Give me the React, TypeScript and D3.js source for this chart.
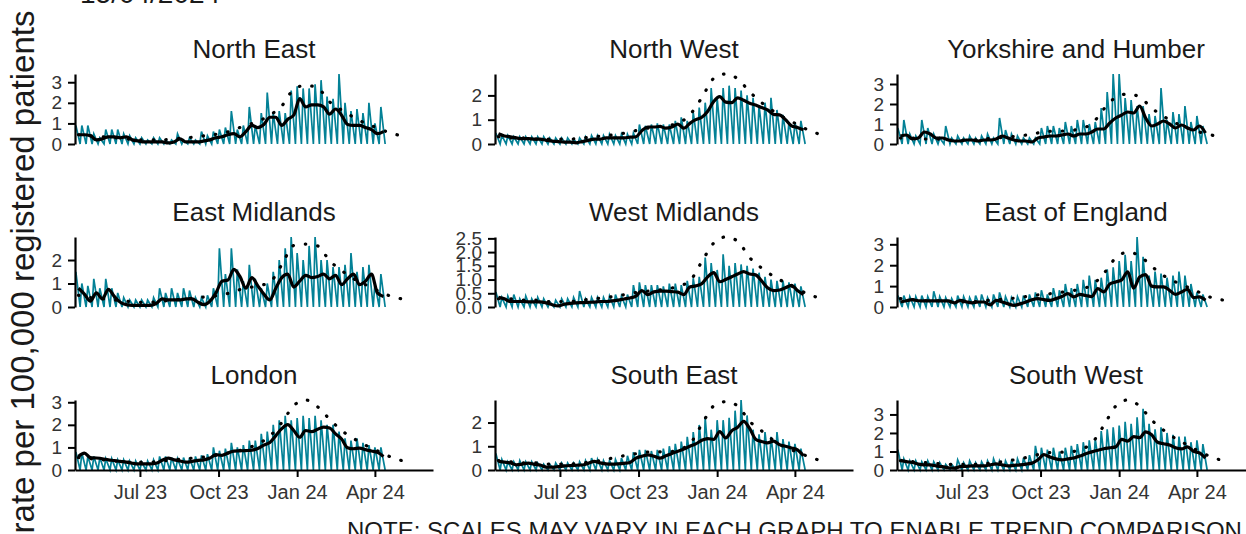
import { useEffect, useRef } from 'react';
import * as d3 from 'd3';

const regions = [
  'North East', 'North West', 'Yorkshire and Humber',
  'East Midlands', 'West Midlands', 'East of England',
  'London', 'South East', 'South West',
];

// weekly peak of the daily rate, one value per week starting Mon 17 Apr 2023
const neHigh = [0.9,0.9,0.9,0.5,0.3,0.7,0.7,0.7,0.5,0.4, 0.3,0.3,0.2,0.3,0.3,0.2,0.2,0.5,0.2,0.3, 0.2,0.6,0.4,0.6,0.7,0.8,1.6,0.7,0.9,1.8, 0.9,1.5,2.5,1.5,1.6,1.5,2.6,2.8,2.7,2.7, 2.9,3.1,2.3,2.2,3.4,2.0,1.6,1.7,1.5,2.0, 1.0,1.8];
const nwHigh = [0.45,0.35,0.35,0.3,0.3,0.3,0.3,0.3,0.3,0.25, 0.25,0.25,0.25,0.2,0.25,0.3,0.35,0.35,0.35,0.4, 0.35,0.4,0.4,0.45,0.8,0.75,0.8,0.85,0.8,0.8, 0.95,1.1,0.95,1.3,1.5,1.7,2.3,1.9,2.3,2.4, 2.3,2.2,2.0,1.9,1.6,1.7,1.9,1.4,1.2,0.9, 0.9,0.95];
const yhHigh = [0.8,1.2,0.5,0.4,1.2,0.8,0.5,0.3,0.9,0.3, 0.4,0.3,0.4,0.3,0.4,0.5,0.3,1.3,0.7,0.5, 0.4,0.3,0.3,0.3,0.8,0.9,0.9,0.8,1.1,0.9, 1.2,1.2,1.0,1.1,1.8,2.6,3.5,3.5,2.3,2.2, 1.9,1.9,1.5,1.4,2.8,1.2,1.6,1.5,1.9,1.1, 1.4,0.9];
const emHigh = [1.5,1.0,0.9,1.2,0.8,1.2,0.8,0.6,0.4,0.3, 0.3,0.3,0.3,0.4,0.8,0.6,0.8,0.6,0.8,0.7, 0.4,0.4,0.5,0.8,2.5,1.4,2.5,1.6,1.1,1.8, 1.2,0.8,1.0,1.5,2.0,2.5,2.98,2.3,2.0,2.6, 2.98,2.0,2.0,1.7,1.7,1.8,2.3,1.5,1.7,1.8, 1.0,1.4];
const wmHigh = [0.55,0.35,0.4,0.45,0.3,0.4,0.3,0.35,0.3,0.2, 0.25,0.3,0.3,0.35,0.58,0.3,0.35,0.35,0.35,0.4, 0.45,0.4,0.45,0.8,0.9,0.8,0.8,0.8,0.75,0.85, 0.85,0.8,0.95,1.05,1.1,1.8,1.6,1.35,1.92,1.5, 1.6,1.55,1.5,1.4,1.25,1.1,1.0,0.95,0.95,0.9, 0.85,0.75];
const eeHigh = [0.55,0.55,0.5,0.5,0.55,0.5,0.75,0.5,0.45,0.4, 0.55,0.5,0.45,0.55,0.6,0.45,0.6,0.7,0.5,0.45, 0.5,0.55,0.6,0.7,0.8,0.6,0.9,0.8,1.1,0.9, 1.1,1.3,1.5,1.3,1.4,1.8,1.9,2.2,2.5,2.2, 3.35,2.4,1.5,1.7,1.6,1.4,1.5,1.7,1.5,1.1, 0.7,0.6];
const ldHigh = [0.8,0.75,0.6,0.6,0.55,0.5,0.5,0.45,0.45,0.4, 0.4,0.35,0.4,0.45,0.6,0.6,0.55,0.5,0.55,0.55, 0.6,0.65,0.7,1.0,0.85,0.95,1.2,1.0,1.1,1.3, 1.3,1.6,1.7,2.0,2.2,2.4,2.2,2.3,2.4,2.3, 2.4,2.2,2.0,2.0,1.7,1.4,1.3,1.4,1.2,1.1, 1.0,1.0];
const seHigh = [0.7,0.45,0.35,0.35,0.4,0.35,0.35,0.3,0.25,0.25, 0.3,0.3,0.3,0.3,0.35,0.4,0.5,0.45,0.4,0.4, 0.45,0.5,0.6,0.75,0.85,0.85,0.8,0.85,0.9,1.0, 1.1,1.2,1.4,1.6,1.9,2.2,1.7,2.1,2.1,2.2, 2.5,2.95,2.3,1.7,1.5,1.6,1.4,1.6,1.3,1.2, 1.1,0.9];
const swHigh = [1.1,0.6,0.5,0.5,0.45,0.5,0.45,0.4,0.3,0.3, 0.55,0.4,0.5,0.4,0.45,0.5,0.6,0.5,0.5,0.5, 0.6,0.65,0.8,1.3,1.2,1.1,1.2,1.0,1.2,1.3, 1.4,1.5,1.6,1.7,2.1,2.2,2.3,2.4,2.6,2.5, 2.85,3.3,2.5,2.2,2.3,2.0,1.9,1.8,1.8,1.5, 1.6,1.4];

// weekend days sit on the baseline in every panel
const weekendLow = 0;

// rolling average (black line), mid-week values
const neMean = [0.45,0.45,0.4,0.2,0.25,0.35,0.35,0.3,0.35,0.2, 0.15,0.1,0.1,0.1,0.1,0.05,0.1,0.25,0.1,0.1, 0.1,0.15,0.2,0.3,0.35,0.45,0.5,0.35,0.6,0.9, 0.8,0.95,1.3,1.3,0.9,1.2,1.4,2.2,1.8,1.9, 1.9,1.8,1.45,1.7,1.4,0.95,0.9,0.9,0.8,0.7, 0.5,0.6];
const nwMean = [0.42,0.33,0.3,0.25,0.22,0.22,0.2,0.2,0.15,0.12, 0.1,0.08,0.08,0.05,0.1,0.15,0.2,0.2,0.25,0.25, 0.25,0.25,0.28,0.3,0.55,0.7,0.7,0.72,0.65,0.7, 0.82,0.65,0.85,1.0,1.1,1.35,1.75,1.95,1.72,1.7, 1.9,1.8,1.68,1.6,1.5,1.4,1.22,1.2,1.0,0.75, 0.68,0.58];
const yhMean = [0.4,0.45,0.25,0.3,0.6,0.5,0.3,0.3,0.2,0.15, 0.15,0.2,0.2,0.15,0.2,0.2,0.25,0.4,0.3,0.2, 0.15,0.15,0.1,0.3,0.35,0.4,0.4,0.45,0.5,0.4, 0.5,0.5,0.6,0.75,0.75,1.05,1.3,1.45,1.6,1.55, 1.9,1.3,0.9,1.0,1.15,1.0,0.8,0.95,0.8,0.7, 0.9,0.55];
const emMean = [0.8,0.55,0.25,0.6,0.35,0.75,0.45,0.2,0.1,0.07, 0.07,0.07,0.07,0.15,0.35,0.3,0.3,0.3,0.35,0.35, 0.2,0.1,0.25,0.6,1.1,1.15,1.6,1.3,0.8,1.25, 0.9,0.55,0.3,0.8,1.25,1.4,0.85,1.1,1.35,1.25, 1.3,1.4,1.2,1.35,0.95,1.2,1.4,0.95,1.1,1.4, 0.6,0.45];
const wmMean = [0.35,0.3,0.2,0.2,0.2,0.19,0.19,0.19,0.15,0.08, 0.04,0.1,0.13,0.15,0.16,0.17,0.18,0.2,0.2,0.22, 0.25,0.29,0.33,0.4,0.6,0.45,0.55,0.58,0.58,0.56, 0.54,0.45,0.73,0.77,0.85,1.1,1.25,0.92,1.0,1.1, 1.2,1.29,1.2,1.17,0.95,0.7,0.6,0.62,0.7,0.79, 0.6,0.45];
const eeMean = [0.24,0.3,0.35,0.3,0.29,0.29,0.29,0.29,0.29,0.2, 0.32,0.25,0.2,0.24,0.24,0.1,0.32,0.24,0.15,0.08, 0.15,0.24,0.35,0.4,0.35,0.32,0.4,0.5,0.64,0.48, 0.6,0.55,0.5,0.88,0.72,1.1,1.2,1.3,1.68,0.9, 1.44,1.55,1.0,0.96,0.96,0.8,0.6,0.72,0.85,0.45, 0.48,0.32];
const ldMean = [0.6,0.75,0.55,0.53,0.5,0.45,0.42,0.38,0.35,0.3, 0.27,0.27,0.27,0.3,0.43,0.53,0.45,0.4,0.35,0.38, 0.43,0.45,0.53,0.68,0.65,0.75,0.84,0.85,0.86,0.88, 0.95,1.1,1.22,1.52,1.83,2.01,1.75,1.45,1.75,1.7, 1.8,1.9,1.86,1.6,1.37,0.99,0.94,0.97,0.9,0.84, 0.78,0.6];
const seMean = [0.36,0.33,0.3,0.22,0.25,0.29,0.24,0.21,0.12,0.12, 0.14,0.17,0.19,0.2,0.21,0.28,0.36,0.3,0.26,0.25, 0.26,0.28,0.32,0.5,0.58,0.64,0.58,0.5,0.6,0.7, 0.79,0.88,1.0,1.1,1.25,1.32,1.29,1.62,1.35,1.65, 1.8,2.05,1.75,1.3,1.2,1.14,1.22,1.07,1.0,0.93, 0.85,0.6];
const swMean = [0.52,0.45,0.41,0.32,0.28,0.28,0.22,0.18,0.12,0.1, 0.18,0.2,0.22,0.22,0.22,0.28,0.33,0.28,0.22,0.25, 0.28,0.32,0.37,0.55,0.83,0.7,0.6,0.55,0.6,0.65, 0.75,0.88,0.98,1.07,1.15,1.2,1.25,1.65,1.56,1.8, 1.75,2.06,1.9,1.5,1.42,1.35,1.2,1.14,1.25,1.01, 0.92,0.64];

// previous season (dotted line), one value every two weeks
const nePrev = [0.45,0.4,0.35,0.3,0.25,0.2,0.2,0.2,0.25,0.3, 0.35,0.45,0.5,0.7,0.9,1.1,1.4,1.85,2.65,2.85, 2.72,2.05,1.65,1.3,1.0,0.78,0.55,0.4];
const nwPrev = [0.3,0.25,0.25,0.2,0.2,0.2,0.2,0.25,0.3,0.35, 0.4,0.5,0.6,0.7,0.75,0.85,1.2,1.9,2.7,2.88, 2.68,2.15,1.7,1.35,1.05,0.8,0.55,0.38];
const yhPrev = [0.3,0.3,0.25,0.25,0.2,0.2,0.2,0.25,0.3,0.35, 0.4,0.5,0.6,0.65,0.65,0.77,1.0,1.75,2.33,2.5, 2.35,1.8,1.38,1.05,0.8,0.6,0.45,0.3];
const emPrev = [0.5,0.4,0.35,0.3,0.25,0.2,0.2,0.25,0.3,0.35, 0.4,0.45,0.5,0.67,0.8,0.9,1.05,1.8,2.62,2.68, 2.6,1.97,1.55,1.2,0.95,0.7,0.48,0.35];
const wmPrev = [0.3,0.3,0.25,0.25,0.2,0.2,0.2,0.25,0.3,0.35, 0.4,0.5,0.55,0.6,0.65,0.75,0.95,1.65,2.33,2.55, 2.4,1.8,1.42,1.12,0.88,0.65,0.45,0.3];
const eePrev = [0.4,0.35,0.3,0.3,0.25,0.25,0.25,0.3,0.35,0.4, 0.45,0.55,0.6,0.67,0.75,0.85,1.05,1.6,2.35,2.62, 2.45,1.95,1.5,1.2,0.95,0.7,0.45,0.33];
const ldPrev = [0.55,0.5,0.45,0.4,0.35,0.35,0.35,0.4,0.45,0.5, 0.55,0.6,0.7,0.8,0.95,1.15,1.5,2.1,2.85,3.1, 2.8,2.25,1.75,1.4,1.1,0.85,0.6,0.42];
const sePrev = [0.4,0.35,0.3,0.3,0.25,0.25,0.25,0.3,0.35,0.45, 0.55,0.65,0.72,0.78,0.75,0.85,1.1,1.92,2.7,2.88, 2.7,2.05,1.65,1.25,0.95,0.75,0.55,0.38];
const swPrev = [0.5,0.45,0.4,0.35,0.3,0.3,0.3,0.35,0.4,0.5, 0.6,0.75,0.9,0.96,0.96,1.1,1.45,2.4,3.45,3.78, 3.45,2.7,2.15,1.7,1.35,1.0,0.7,0.5];

const highs = [neHigh, nwHigh, yhHigh, emHigh, wmHigh, eeHigh, ldHigh, seHigh, swHigh];
const means = [neMean, nwMean, yhMean, emMean, wmMean, eeMean, ldMean, seMean, swMean];
const prevs = [nePrev, nwPrev, yhPrev, emPrev, wmPrev, eePrev, ldPrev, sePrev, swPrev];

const yTicks = [
  [0, 1, 2, 3], [0, 1, 2], [0, 1, 2, 3],
  [0, 1, 2], [0, 0.5, 1, 1.5, 2, 2.5], [0, 1, 2, 3],
  [0, 1, 2, 3], [0, 1, 2], [0, 1, 2, 3],
];

const xTickDates = [new Date(2023, 6, 1), new Date(2023, 9, 1), new Date(2024, 0, 1), new Date(2024, 3, 1)];
const xTickLabels = ['Jul 23', 'Oct 23', 'Jan 24', 'Apr 24'];

const firstMonday = new Date(2023, 3, 17);
const FONT = '"Liberation Sans", Arial, sans-serif';
const TEAL = '#038196';

function SmallMultiples() {
  const svgRef = useRef<SVGSVGElement>(null);

  useEffect(() => {
    const width = 1246;
    const height = 534;
    const colX = [75, 495, 897];
    const rowY = [74, 237, 400];
    const panelW = 358;
    const panelH = 70;

    const svg = d3.select(svgRef.current)
      .attr('width', width)
      .attr('height', height);

    svg.selectAll('*').remove();

    const x = d3.scaleTime()
      .domain([new Date(2023, 3, 16), new Date(2024, 5, 8)])
      .range([0, panelW]);

    const day = (n: number) => d3.timeDay.offset(firstMonday, n);

    regions.forEach((name, i) => {
      const col = i % 3;
      const row = Math.floor(i / 3);
      const g = svg.append('g')
        .attr('transform', `translate(${colX[col]},${rowY[row]})`);

      const yMax = d3.max([...highs[i], ...means[i], ...prevs[i]]) as number;
      const y = d3.scaleLinear().domain([0, yMax]).range([panelH, 0]);

      // daily counts: weekday peak then weekend trough
      const daily: [Date, number][] = [];
      highs[i].forEach((v, w) => {
        daily.push([day(7 * w), v]);
        daily.push([day(7 * w + 5), weekendLow]);
      });
      const avg: [Date, number][] = means[i].map((v, w) => [day(7 * w + 3), v]);
      const prev: [Date, number][] = prevs[i].map((v, k) => [day(14 * k + 3), v]);

      const line = d3.line<[Date, number]>()
        .x(d => x(d[0]))
        .y(d => y(d[1]));

      g.append('path')
        .attr('d', line(daily))
        .attr('fill', 'none')
        .attr('stroke', TEAL)
        .attr('stroke-width', 1.7);

      g.append('path')
        .attr('d', line.curve(d3.curveMonotoneX)(avg))
        .attr('fill', 'none')
        .attr('stroke', '#000')
        .attr('stroke-width', 3.2)
        .attr('stroke-linejoin', 'round');

      g.append('path')
        .attr('d', line.curve(d3.curveMonotoneX)(prev))
        .attr('fill', 'none')
        .attr('stroke', '#000')
        .attr('stroke-width', 3.2)
        .attr('stroke-linecap', 'round')
        .attr('stroke-dasharray', '0.5 12');

      const decimals = yTicks[i].some(t => !Number.isInteger(t));
      const yAxis = g.append('g')
        .call(d3.axisLeft(y)
          .tickValues(yTicks[i])
          .tickSize(7)
          .tickSizeOuter(0)
          .tickPadding(6)
          .tickFormat(d => decimals ? d3.format('.1f')(d as number) : String(d)));
      yAxis.select('.domain').attr('stroke', '#000').attr('stroke-width', 2.2);
      yAxis.selectAll('.tick line').attr('stroke', '#000').attr('stroke-width', 2);
      yAxis.selectAll('.tick text')
        .attr('fill', '#333')
        .style('font-size', '19px')
        .style('font-family', FONT);

      if (row === 2) {
        const xAxis = g.append('g')
          .attr('transform', `translate(0,${panelH})`)
          .call(d3.axisBottom(x)
            .tickValues(xTickDates)
            .tickSize(7)
            .tickSizeOuter(0)
            .tickPadding(8)
            .tickFormat((_, j) => xTickLabels[j]));
        xAxis.select('.domain').attr('stroke', '#000').attr('stroke-width', 2.2);
        xAxis.selectAll('.tick line').attr('stroke', '#000').attr('stroke-width', 2);
        xAxis.selectAll('.tick text')
          .attr('fill', '#333')
          .style('font-size', '20px')
          .style('font-family', FONT);
      }

      g.append('text')
        .attr('x', panelW / 2)
        .attr('y', -16)
        .attr('text-anchor', 'middle')
        .attr('fill', '#1a1a1a')
        .style('font-size', '26px')
        .style('font-family', FONT)
        .text(name);
    });

    svg.append('text')
      .attr('transform', 'translate(34,272) rotate(-90)')
      .attr('text-anchor', 'middle')
      .attr('fill', '#1a1a1a')
      .style('font-size', '33px')
      .style('font-family', FONT)
      .text('rate per 100,000 registered patients');

    svg.append('text')
      .attr('x', 80)
      .attr('y', 3)
      .attr('fill', '#1a1a1a')
      .style('font-size', '28px')
      .style('font-family', FONT)
      .text('15/04/2024');

    svg.append('text')
      .attr('x', 347)
      .attr('y', 539)
      .attr('fill', '#1a1a1a')
      .style('font-size', '24px')
      .style('font-family', FONT)
      .text('NOTE: SCALES MAY VARY IN EACH GRAPH TO ENABLE TREND COMPARISON');
  }, []);

  return <svg ref={svgRef} style={{ position: 'absolute', left: 0, top: 0, background: '#fff' }}></svg>;
}

export default function App() {
  return <SmallMultiples />;
}
